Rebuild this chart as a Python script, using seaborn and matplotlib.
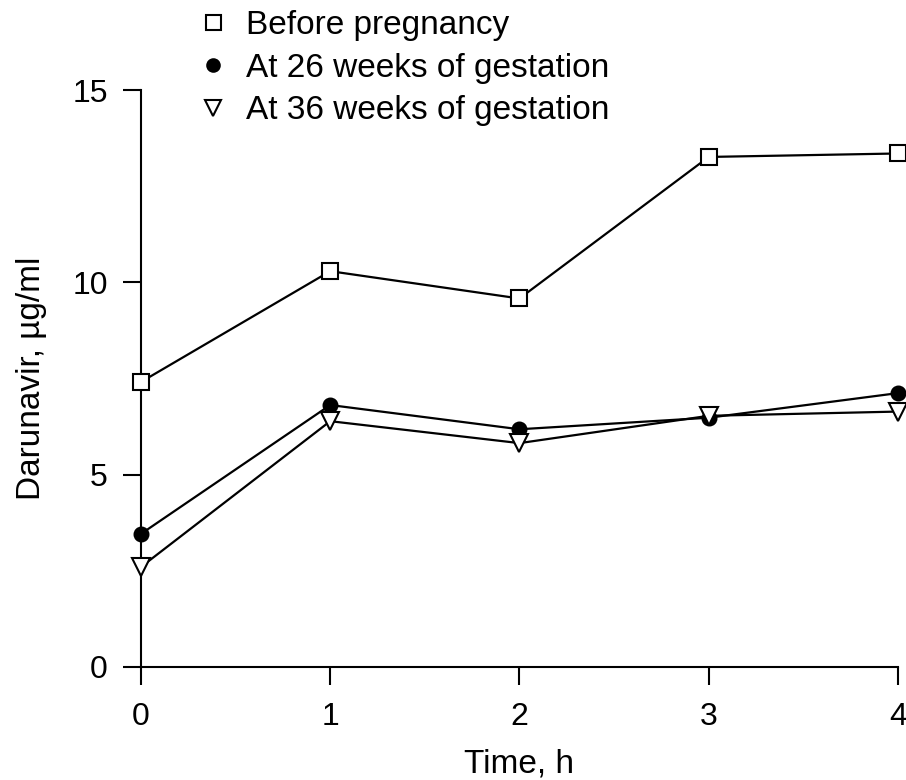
import pandas as pd
import seaborn as sns
import matplotlib.pyplot as plt

# Datos
tiempo = [0, 1, 2, 3, 4]
antes_embarazo = [7.41, 10.29, 9.58, 13.26, 13.35]
semana_26 = [3.46, 6.81, 6.18, 6.48, 7.12]
semana_36 = [2.60, 6.39, 5.82, 6.53, 6.64]

etiquetas = ['Before pregnancy', 'At 26 weeks of gestation', 'At 36 weeks of gestation']

df = pd.DataFrame({'t': tiempo, 'a': antes_embarazo, 'b': semana_26, 'c': semana_36})

sns.set_style('ticks')
plt.rcParams['font.family'] = ['Liberation Sans', 'DejaVu Sans']
plt.rcParams['text.color'] = 'black'
plt.rcParams['axes.labelcolor'] = 'black'
plt.rcParams['xtick.color'] = 'black'
plt.rcParams['ytick.color'] = 'black'
plt.rcParams['axes.edgecolor'] = 'black'

fig = plt.figure(figsize=(9.06, 7.80), dpi=100)
ax = fig.add_axes([0.1556, 0.1449, 0.8355, 0.7397])

estilos = [
    ('a', 's', 'white', 12),
    ('b', 'o', 'black', 10),
    ('c', 'v', 'white', 13),
]
for (col, mk, fc, ms), lab in zip(estilos, etiquetas):
    sns.lineplot(x='t', y=col, data=df, ax=ax, color='black', linewidth=1.6,
                 marker=mk, markersize=ms, markerfacecolor=fc, markeredgecolor='black',
                 markeredgewidth=1.5, label=lab, clip_on=False, zorder=3)

ax.set_xlim(0, 4)
ax.set_ylim(0, 15)
ax.set_xticks([0, 1, 2, 3, 4])
ax.set_yticks([0, 5, 10, 15])
sns.despine(ax=ax)
ax.spines['left'].set_linewidth(1.5)
ax.spines['bottom'].set_linewidth(1.5)
ax.tick_params(direction='out', length=13, width=1.5, labelsize=23, color='black',
               labelcolor='black')
ax.tick_params(axis='x', pad=12)
ax.tick_params(axis='y', pad=11)

ax.set_xlabel('Time, h', fontsize=24, labelpad=12)
ax.set_ylabel('Darunavir, µg/ml', fontsize=24, labelpad=18)

leg = ax.legend(loc='upper left', bbox_to_anchor=(0.235, 0.987), bbox_transform=fig.transFigure,
                frameon=False, fontsize=24, borderpad=0, borderaxespad=0,
                handlelength=0, handletextpad=1.0, labelspacing=0.35, markerscale=0.9)

fig.savefig('out.png', dpi=100)
